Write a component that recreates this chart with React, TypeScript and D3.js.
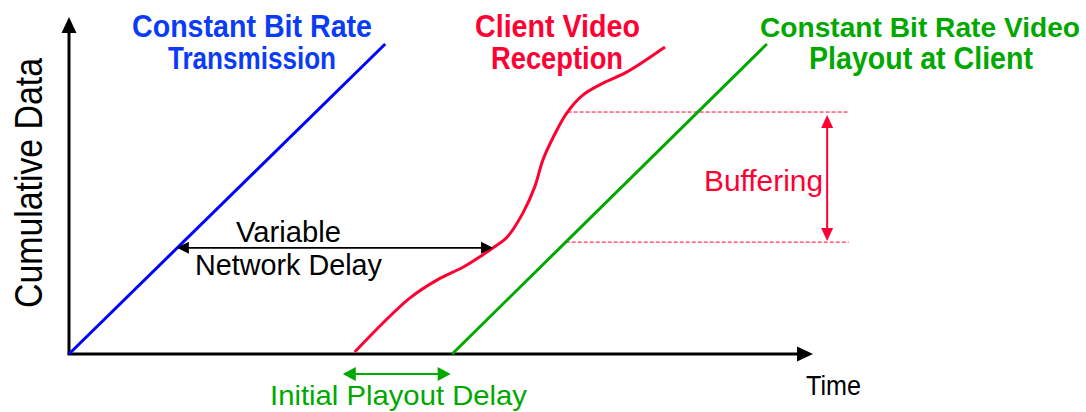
import React from "react";
import * as d3 from "d3";

const W = 1086;
const H = 412;
const FONT = "'Liberation Sans', Arial, Helvetica, sans-serif";

// ---- data (time units 0..100, cumulative data units 0..100) ----
const transmissionTime = [0, 42.5];
const transmissionData = [0, 92];
const playoutTime = [51.5, 93.8];
const playoutData = [0, 92];
const receptionTime = [38.4, 42.2, 45.8, 49.5, 53.0, 55.6, 57.0, 58.9, 61.0, 62.6, 63.7, 65.1, 66.9, 69.1, 71.8, 75.0, 80.1];
const receptionData = [0.6, 9.2, 16.6, 22.0, 25.8, 29.4, 31.5, 34.7, 41.8, 49.6, 57.6, 64.4, 71.5, 76.9, 80.4, 83.7, 91.1];
const bufferLevels = [33.2, 71.8];
const bufferArrowTime = 101.9;
const bufferLineEnd = 104.8;
const networkDelayTimes = [14.5, 57.0];
const networkDelayLevel = 31.5;
const initialDelayTimes = [36.8, 51.3];
const initialDelayLevel = -5.9;

const BLUE = "#0000ff";
const BLUE_TXT = "#0a3cf8";
const RED = "#ff0033";
const GREEN = "#00a800";

const x = d3.scaleLinear().domain([0, 100]).range([69, 813]);
const y = d3.scaleLinear().domain([0, 100]).range([354, 17]);

function head(tx: number, ty: number, dir: "l" | "r" | "u" | "d", len: number, wid: number) {
  const h = wid / 2;
  switch (dir) {
    case "l": return `M${tx},${ty}L${tx + len},${ty - h}L${tx + len},${ty + h}Z`;
    case "r": return `M${tx},${ty}L${tx - len},${ty - h}L${tx - len},${ty + h}Z`;
    case "u": return `M${tx},${ty}L${tx - h},${ty + len}L${tx + h},${ty + len}Z`;
    default: return `M${tx},${ty}L${tx - h},${ty - len}L${tx + h},${ty - len}Z`;
  }
}

function T(props: { x: number; y: number; len: number; size: number; fill: string; bold?: boolean; children: string; rotate?: boolean }) {
  const { x: tx, y: ty, len, size, fill, bold, children, rotate } = props;
  return (
    <text
      x={tx}
      y={ty}
      textAnchor="middle"
      fontFamily={FONT}
      fontSize={size}
      fontWeight={bold ? "bold" : "normal"}
      fill={fill}
      textLength={len}
      lengthAdjust="spacingAndGlyphs"
      transform={rotate ? `rotate(-90 ${tx} ${ty})` : undefined}
    >
      {children}
    </text>
  );
}

export default function App() {
  const line = d3.line<[number, number]>().x((d) => x(d[0])).y((d) => y(d[1]));
  const smooth = d3.line<[number, number]>().x((d) => x(d[0])).y((d) => y(d[1])).curve(d3.curveCatmullRom.alpha(0.5));

  const blue = transmissionTime.map((t, i) => [t, transmissionData[i]] as [number, number]);
  const green = playoutTime.map((t, i) => [t, playoutData[i]] as [number, number]);
  const red = receptionTime.map((t, i) => [t, receptionData[i]] as [number, number]);

  const greenAt = (v: number) => playoutTime[0] + ((v - playoutData[0]) * (playoutTime[1] - playoutTime[0])) / (playoutData[1] - playoutData[0]);
  const redAt = (v: number) => {
    for (let i = 1; i < receptionData.length; i++) {
      if (receptionData[i] >= v) {
        const f = (v - receptionData[i - 1]) / (receptionData[i] - receptionData[i - 1]);
        return receptionTime[i - 1] + f * (receptionTime[i] - receptionTime[i - 1]);
      }
    }
    return receptionTime[receptionTime.length - 1];
  };

  const x0 = x(0), y0 = y(0);
  const ndY = y(networkDelayLevel);
  const idY = y(initialDelayLevel);
  const bx = x(bufferArrowTime);
  const bTop = y(bufferLevels[1]);
  const bBot = y(bufferLevels[0]);

  return (
    <svg width={W} height={H} style={{ position: "absolute", left: 0, top: 0, background: "#fff" }}>
      {/* axes */}
      <line x1={x0} y1={y0} x2={x0} y2={y(100) + 14} stroke="#000" strokeWidth={3} />
      <path d={head(x0, y(100), "u", 16, 15)} fill="#000" />
      <line x1={x0 - 1.5} y1={y0} x2={x(100) - 14} y2={y0} stroke="#000" strokeWidth={3} />
      <path d={head(x(100), y0, "r", 16, 15)} fill="#000" />

      {/* buffer dashed lines */}
      <line x1={x(greenAt(bufferLevels[0]))} y1={bBot} x2={x(bufferLineEnd)} y2={bBot} stroke={RED} strokeWidth={1} strokeDasharray="4,2" />
      <line x1={x(redAt(bufferLevels[1]))} y1={bTop} x2={x(bufferLineEnd)} y2={bTop} stroke={RED} strokeWidth={1} strokeDasharray="4,2" />

      {/* series */}
      <path d={line(blue) || ""} fill="none" stroke={BLUE} strokeWidth={3} />
      <path d={line(green) || ""} fill="none" stroke={GREEN} strokeWidth={3} />
      <path d={smooth(red) || ""} fill="none" stroke={RED} strokeWidth={3} />

      {/* network delay arrow */}
      <line x1={x(networkDelayTimes[0]) + 8} y1={ndY} x2={x(networkDelayTimes[1]) - 8} y2={ndY} stroke="#000" strokeWidth={1.8} />
      <path d={head(x(networkDelayTimes[0]), ndY, "l", 12, 12)} fill="#000" />
      <path d={head(x(networkDelayTimes[1]), ndY, "r", 12, 12)} fill="#000" />

      {/* initial playout delay arrow */}
      <line x1={x(initialDelayTimes[0]) + 8} y1={idY} x2={x(initialDelayTimes[1]) - 8} y2={idY} stroke={GREEN} strokeWidth={2} />
      <path d={head(x(initialDelayTimes[0]), idY, "l", 13, 14)} fill={GREEN} />
      <path d={head(x(initialDelayTimes[1]), idY, "r", 13, 14)} fill={GREEN} />

      {/* buffering arrow */}
      <line x1={bx} y1={bTop + 10} x2={bx} y2={bBot - 10} stroke={RED} strokeWidth={2} />
      <path d={head(bx, bTop + 3, "u", 13, 12)} fill={RED} />
      <path d={head(bx, bBot - 1, "d", 13, 12)} fill={RED} />

      {/* titles */}
      <T x={252} y={37} len={240} size={31} fill={BLUE_TXT} bold>Constant Bit Rate</T>
      <T x={252} y={69} len={168} size={31} fill={BLUE_TXT} bold>Transmission</T>
      <T x={557.5} y={37} len={165} size={31} fill={RED} bold>Client Video</T>
      <T x={557} y={69} len={132} size={31} fill={RED} bold>Reception</T>
      <T x={920} y={37} len={320} size={28} fill={GREEN} bold>Constant Bit Rate Video</T>
      <T x={921} y={69} len={224} size={31} fill={GREEN} bold>Playout at Client</T>

      {/* annotations */}
      <T x={288.5} y={242} len={105} size={30} fill="#000">Variable</T>
      <T x={288.5} y={275} len={187} size={30} fill="#000">Network Delay</T>
      <T x={763.5} y={191} len={119} size={30} fill={RED}>Buffering</T>
      <T x={398.5} y={405} len={257} size={28} fill={GREEN}>Initial Playout Delay</T>
      <T x={833.5} y={395} len={55} size={28} fill="#000">Time</T>
      <T x={42} y={183} len={250} size={39} fill="#000" rotate>Cumulative Data</T>
    </svg>
  );
}
